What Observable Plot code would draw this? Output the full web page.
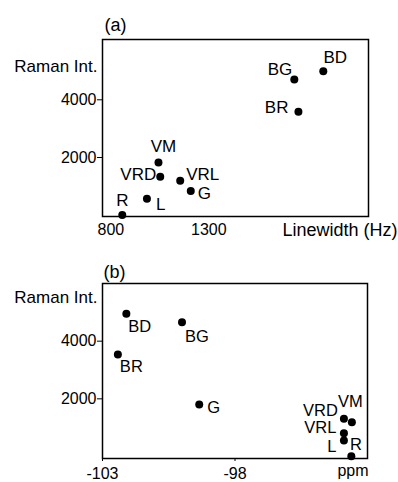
<!DOCTYPE html>
<html>
<head>
<meta charset="utf-8">
<script src="https://cdn.jsdelivr.net/npm/d3@7"></script>
<script src="https://cdn.jsdelivr.net/npm/@observablehq/plot@0.6"></script>
<style>
  html, body { margin: 0; padding: 0; background: #fff; }
  #chart svg { display: block; }
</style>
</head>
<body>
<div id="chart"></div>
<script>
// ---- data ----
const labels = ["BD", "BG", "BR", "VM", "VRD", "VRL", "G", "L", "R"];
// panel (a): Raman intensity vs linewidth (Hz)
const linewidthA = [1885, 1737, 1758, 1043, 1052, 1154, 1208, 984, 858];
const ramanA = [4990, 4700, 3585, 1830, 1330, 1195, 835, 570, 10];
// panel (b): Raman intensity vs chemical shift (ppm)
const ppmB = [-102.1, -100.0, -102.42, -93.59, -93.89, -93.89, -99.35, -93.89, -93.61];
const ramanB = [4950, 4660, 3540, 1185, 1310, 810, 1800, 555, 5];
// ticks
const xTicksA = [800, 1300];
const xTicksB = [-103, -98];
const yTicks = [2000, 4000];

// ---- layout config (label placement: anchor, dx, dy) ----
const placeA = {BD:["middle",12,-14], BG:["end",-2,-10], BR:["end",-10,-4], VM:["middle",5,-16],
  VRD:["end",-4,-2], VRL:["start",6,-6], G:["start",7,2], L:["start",9,6], R:["middle",0,-14]};
const placeB = {BD:["start",2,13], BG:["start",3,15], BR:["start",2,12], G:["start",8,3],
  VRD:["end",-6,-8], VM:["middle",-1.5,-20.5], VRL:["end",-7.5,-5], L:["end",-7.5,6.5], R:["middle",4.5,-11.5]};

const font = "'Liberation Sans', Arial, Helvetica, sans-serif";
const dataA = labels.map((l, i) => ({label: l, x: linewidthA[i], y: ramanA[i]}));
const dataB = labels.map((l, i) => ({label: l, x: ppmB[i], y: ramanB[i]}));

function pointLabels(data, place, size) {
  return labels.map(l => {
    const [anchor, dx, dy] = place[l];
    return Plot.text(data.filter(d => d.label === l), {
      x: "x", y: "y", text: "label", textAnchor: anchor, dx, dy,
      fontSize: size, fill: "black"
    });
  });
}

function note(txt, anchorFrame, textAnchor, dx, dy, size) {
  return Plot.text([txt], {frameAnchor: anchorFrame, textAnchor, lineAnchor: "middle", dx, dy, fontSize: size, fill: "black"});
}

const plotA = Plot.plot({
  width: 398, height: 241,
  marginLeft: 102, marginRight: 30, marginTop: 39, marginBottom: 25,
  style: {fontFamily: font, fontSize: "16px", color: "black", background: "white", overflow: "visible"},
  x: {domain: [757, 2116], label: null},
  y: {domain: [-45, 6090], label: null},
  marks: [
    Plot.axisX({ticks: xTicksA, tickSize: 0, tickPadding: 7, label: null, tickFormat: d3.format("d"), fontSize: 16}),
    Plot.axisY({ticks: yTicks, tickSize: 5, tickPadding: 1, label: null, tickFormat: d3.format("d"), fontSize: 16}),
    Plot.frame({stroke: "black", strokeWidth: 1.5}),
    Plot.dot(dataA, {x: "x", y: "y", r: 4, fill: "black"}),
    ...pointLabels(dataA, placeA, 17),
    note("(a)", "top-left", "start", 2, -14.5, 18),
    note("Raman Int.", "top-left", "end", -5, 26.7, 17),
    note("Linewidth (Hz)", "bottom-right", "end", 29, 14, 18)
  ]
});

const plotB = Plot.plot({
  width: 398, height: 241,
  marginLeft: 102, marginRight: 31, marginTop: 42, marginBottom: 24,
  style: {fontFamily: font, fontSize: "16px", color: "black", background: "white", overflow: "visible"},
  x: {domain: [-103, -93], label: null},
  y: {domain: [-69, 6000], label: null},
  marks: [
    Plot.axisX({ticks: xTicksB, tickSize: 3, tickPadding: 6.5, label: null, tickFormat: d => String(d), fontSize: 16}),
    Plot.axisY({ticks: yTicks, tickSize: 5, tickPadding: 1, label: null, tickFormat: d3.format("d"), fontSize: 16}),
    Plot.frame({stroke: "black", strokeWidth: 1.5}),
    Plot.dot(dataB, {x: "x", y: "y", r: 4, fill: "black"}),
    ...pointLabels(dataB, placeB, 16.5),
    note("(b)", "top-left", "start", 1, -11.5, 18),
    note("Raman Int.", "top-left", "end", -5, 14, 17),
    note("ppm", "bottom-right", "end", 1, 12.5, 16)
  ]
});

const chart = document.getElementById("chart");
chart.appendChild(plotA);
chart.appendChild(plotB);
</script>
</body>
</html>
